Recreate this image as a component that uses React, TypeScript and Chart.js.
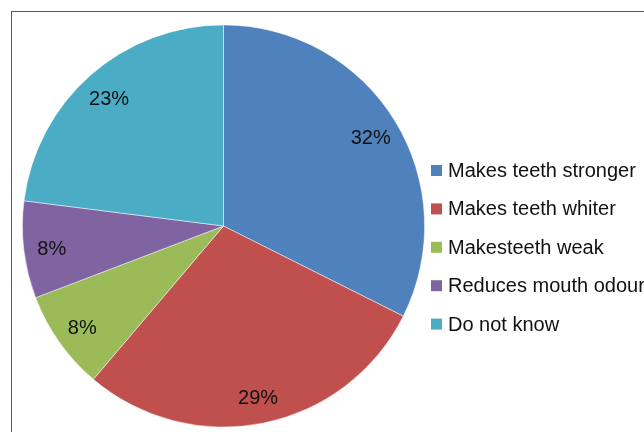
import React, { useEffect, useRef } from "react";
import { Chart, registerables } from "chart.js";

Chart.register(...registerables);

const categories = [
  "Makes teeth stronger",
  "Makes teeth whiter",
  "Makesteeth weak",
  "Reduces mouth odour",
  "Do not know",
];
const values = [32.4, 28.8, 8.0, 7.8, 23.0];
const colors = ["#4F81BD", "#C0504D", "#9BBB59", "#8064A2", "#4BACC6"];

const FONT = '"Liberation Sans", Arial, sans-serif';

const labelPlugin = {
  id: "sliceLabels",
  afterDatasetsDraw(chart: any) {
    const ctx = chart.ctx;
    const meta = chart.getDatasetMeta(0);
    const data = chart.data.datasets[0].data as number[];
    const total = data.reduce((a, b) => a + b, 0);
    ctx.save();
    ctx.font = `20px ${FONT}`;
    ctx.fillStyle = "#111";
    ctx.textAlign = "center";
    ctx.textBaseline = "middle";
    meta.data.forEach((arc: any, i: number) => {
      const p = arc.getProps(["startAngle", "endAngle", "outerRadius", "x", "y"], true);
      const mid = (p.startAngle + p.endAngle) / 2;
      const r = p.outerRadius * 0.86;
      const x = p.x + Math.cos(mid) * r;
      const y = p.y + Math.sin(mid) * r + 3;
      ctx.fillText(`${Math.round((data[i] / total) * 100)}%`, x, y);
    });
    ctx.restore();
  },
};

const legendPlugin = {
  id: "rightLegend",
  afterDraw(chart: any) {
    const ctx = chart.ctx;
    const labels = chart.data.labels as string[];
    const bg = chart.data.datasets[0].backgroundColor as string[];
    ctx.save();
    ctx.font = `20px ${FONT}`;
    ctx.textBaseline = "middle";
    ctx.textAlign = "left";
    labels.forEach((lab, i) => {
      const cy = 170.5 + i * 38.4;
      ctx.fillStyle = bg[i];
      ctx.fillRect(431, cy - 5.5, 11, 11);
      ctx.fillStyle = "#111";
      ctx.fillText(lab, 448, cy + 1);
    });
    ctx.restore();
  },
};

export default function App() {
  const ref = useRef<HTMLCanvasElement | null>(null);
  useEffect(() => {
    if (!ref.current) return;
    const chart = new Chart(ref.current, {
      type: "pie",
      data: {
        labels: categories,
        datasets: [
          {
            data: values,
            backgroundColor: colors,
            borderColor: "rgba(255,255,255,0.6)",
            borderWidth: 0.8,
          },
        ],
      },
      options: {
        animation: false,
        responsive: false,
        maintainAspectRatio: false,
        layout: { padding: { left: 22, right: 219, top: 24.5, bottom: 4.5 } },
        plugins: {
          legend: { display: false },
          tooltip: { enabled: false },
        },
      },
      plugins: [labelPlugin, legendPlugin],
    });
    return () => chart.destroy();
  }, []);

  return (
    <div
      style={{
        position: "fixed",
        left: 0,
        top: 0,
        width: 644,
        height: 432,
        overflow: "hidden",
        background: "#fff",
      }}
    >
      <div
        style={{
          position: "absolute",
          left: 11,
          top: 11,
          width: 700,
          height: 500,
          border: "1px solid #5a5a5a",
          boxSizing: "border-box",
        }}
      />
      <canvas
        ref={ref}
        width={644}
        height={432}
        style={{ position: "absolute", left: 0, top: 0, width: 644, height: 432 }}
      />
    </div>
  );
}
